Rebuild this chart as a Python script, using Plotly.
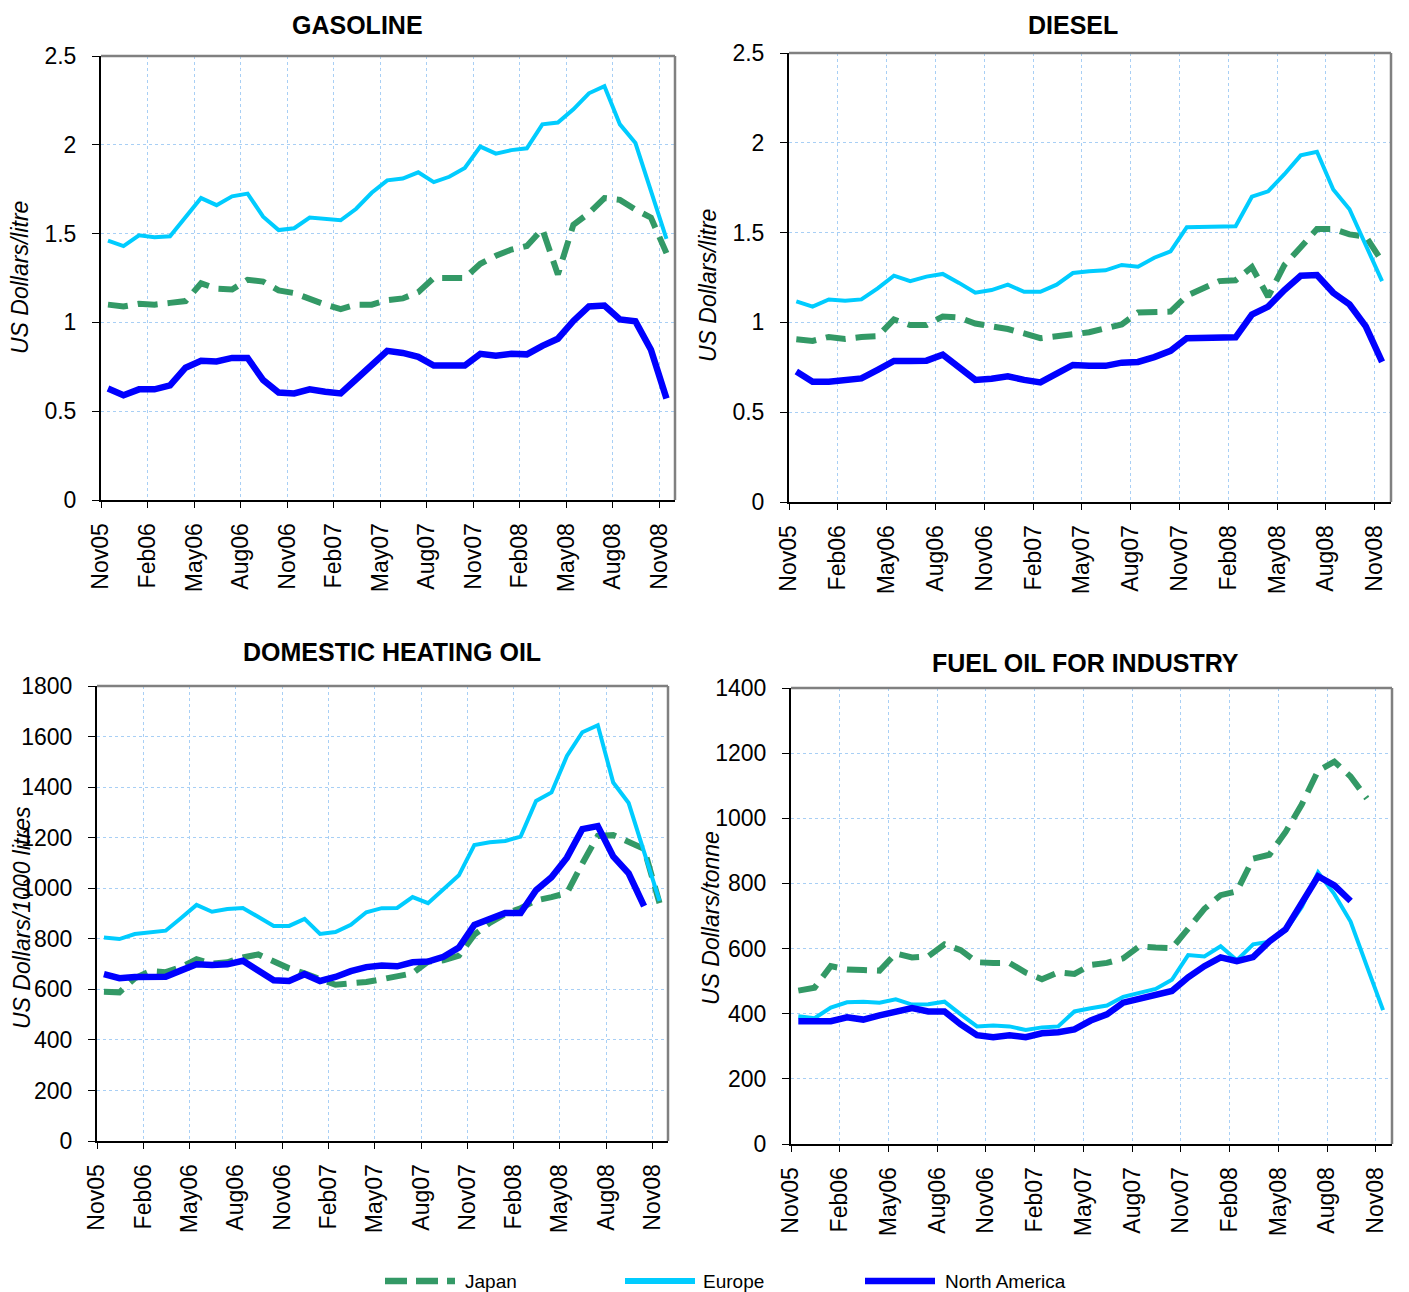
import plotly.graph_objects as go

months = ["Nov05","Dec05","Jan06","Feb06","Mar06","Apr06","May06","Jun06","Jul06","Aug06","Sep06","Oct06",
          "Nov06","Dec06","Jan07","Feb07","Mar07","Apr07","May07","Jun07","Jul07","Aug07","Sep07","Oct07",
          "Nov07","Dec07","Jan08","Feb08","Mar08","Apr08","May08","Jun08","Jul08","Aug08","Sep08","Oct08","Nov08"]
tick_labels = ["Nov05","Feb06","May06","Aug06","Nov06","Feb07","May07","Aug07","Nov07","Feb08","May08","Aug08","Nov08"]

gas_japan = [1.10,1.09,1.105,1.10,1.11,1.12,1.22,1.19,1.185,1.24,1.23,1.18,1.165,1.13,1.10,1.075,1.10,1.10,1.125,1.135,
             1.17,1.25,1.25,1.25,1.33,1.375,1.41,1.43,1.525,1.27,1.55,1.615,1.70,1.69,1.635,1.59,1.39]
gas_europe = [1.46,1.43,1.49,1.48,1.485,1.59,1.70,1.66,1.71,1.725,1.595,1.52,1.53,1.59,1.58,1.575,1.64,1.73,1.80,1.81,
              1.845,1.79,1.82,1.87,1.99,1.95,1.97,1.98,2.115,2.125,2.20,2.29,2.33,2.115,2.01,1.74,1.47]
gas_na = [0.628,0.59,0.623,0.623,0.645,0.745,0.784,0.78,0.80,0.80,0.675,0.605,0.60,0.623,0.61,0.60,0.68,0.757,0.84,0.828,
          0.806,0.757,0.757,0.757,0.823,0.812,0.823,0.82,0.868,0.908,1.008,1.09,1.095,1.017,1.006,0.846,0.572]

dsl_japan = [0.906,0.897,0.919,0.908,0.919,0.923,1.016,0.985,0.985,1.033,1.027,0.994,0.978,0.963,0.939,0.912,0.923,0.93,
             0.945,0.967,0.989,1.055,1.055,1.06,1.148,1.192,1.23,1.235,1.308,1.143,1.32,1.418,1.52,1.52,1.49,1.478,1.34]
dsl_europe = [1.117,1.088,1.128,1.121,1.128,1.19,1.26,1.23,1.255,1.27,1.22,1.165,1.18,1.21,1.17,1.17,1.21,1.275,1.285,
              1.29,1.32,1.31,1.36,1.395,1.53,1.53,1.53,1.535,1.70,1.73,1.825,1.93,1.95,1.74,1.63,1.43,1.23]
dsl_na = [0.726,0.67,0.67,0.675,0.688,0.736,0.785,0.785,0.787,0.82,0.754,0.68,0.686,0.70,0.68,0.666,0.715,0.763,0.758,
          0.758,0.776,0.78,0.807,0.842,0.912,0.912,0.908,0.917,1.044,1.088,1.18,1.26,1.264,1.165,1.10,0.978,0.78]

heat_japan = [590,588,644,672,668,688,719,702,707,726,738,710,683,663,640,618,624,629,640,650,663,710,715,733,
              816,863,898,921,952,965,981,1098,1207,1210,1184,1156,941]
heat_europe = [805,799,819,824,832,882,934,907,918,922,887,851,851,879,819,827,855,905,921,922,965,941,996,1051,
               1171,1182,1187,1204,1345,1379,1523,1617,1645,1418,1337,1145,950]
heat_na = [660,644,649,650,650,675,699,696,699,713,672,636,633,660,633,649,672,688,694,691,707,710,729,765,
           855,879,902,902,992,1043,1121,1234,1246,1126,1059,929,None]

fuel_japan = [471,480,546,536,534,532,585,573,576,613,595,558,556,556,526,506,527,522,550,556,570,607,603,601,
              661,722,764,776,876,888,958,1043,1146,1174,1128,1061,None]
fuel_europe = [392,386,419,435,437,434,444,428,429,437,398,361,364,361,350,358,361,407,417,425,452,465,476,504,
               580,576,607,564,613,621,655,728,834,767,683,546,411]
fuel_na = [377,377,377,389,382,395,407,417,407,407,367,334,328,334,328,340,343,352,379,398,434,447,455,470,
           512,546,573,561,574,622,659,740,822,794,746,None,None]

W, H = 1409, 1292
OFF = 8  # page body margin shifts the figure by 8px in the viewport


def px(x):
    return (x - OFF) / W


def py(y):
    return 1 - (y - OFF) / H


FONT = "Liberation Sans, Arial, sans-serif"
C_JP, C_EU, C_NA = "#339966", "#00CCFF", "#0000FF"
GRID = "#A8CFF5"

xpos = [i + 0.45 for i in range(len(months))]
tickvals = [months.index(t) for t in tick_labels]

panels = [
    dict(title="GASOLINE", ytitle="US Dollars/litre", data=(gas_japan, gas_europe, gas_na),
         box=(101, 675, 56, 500), yr=(0, 2.5), dt=0.5, tpos=(357, 25), ypos=(20, 278)),
    dict(title="DIESEL", ytitle="US Dollars/litre", data=(dsl_japan, dsl_europe, dsl_na),
         box=(789, 1391, 53, 502), yr=(0, 2.5), dt=0.5, tpos=(1073, 25), ypos=(708, 286)),
    dict(title="DOMESTIC HEATING OIL", ytitle="US Dollars/1000 litres", data=(heat_japan, heat_europe, heat_na),
         box=(97, 668, 686, 1141), yr=(0, 1800), dt=200, tpos=(392, 652), ypos=(22, 918)),
    dict(title="FUEL OIL FOR INDUSTRY", ytitle="US Dollars/tonne", data=(fuel_japan, fuel_europe, fuel_na),
         box=(791, 1392, 688, 1144), yr=(0, 1400), dt=200, tpos=(1085, 663), ypos=(711, 918)),
]

fig = go.Figure()
annotations = []
shapes = []
layout = {}

for k, p in enumerate(panels, start=1):
    xa = "x" if k == 1 else f"x{k}"
    ya = "y" if k == 1 else f"y{k}"
    jp, eu, na = p["data"]
    fig.add_trace(go.Scatter(x=xpos, y=jp, mode="lines", name="Japan", xaxis=xa, yaxis=ya,
                             line=dict(color=C_JP, width=6, dash="20px,10px"), showlegend=False))
    fig.add_trace(go.Scatter(x=xpos, y=eu, mode="lines", name="Europe", xaxis=xa, yaxis=ya,
                             line=dict(color=C_EU, width=4), showlegend=False))
    fig.add_trace(go.Scatter(x=xpos, y=na, mode="lines", name="North America", xaxis=xa, yaxis=ya,
                             line=dict(color=C_NA, width=6.5), showlegend=False))
    x0, x1, y0, y1 = p["box"]
    xkey = "xaxis" if k == 1 else f"xaxis{k}"
    ykey = "yaxis" if k == 1 else f"yaxis{k}"
    layout[xkey] = dict(domain=[px(x0), px(x1)], anchor=ya, range=[0, 37], automargin=False,
                        tickmode="array", tickvals=tickvals, ticktext=tick_labels, tickangle=-90,
                        ticks="outside", ticklen=6, tickcolor="black", showline=True, linecolor="black",
                        linewidth=2, showgrid=True, gridcolor=GRID, griddash="dot", gridwidth=1,
                        zeroline=False, tickfont=dict(family=FONT, size=23, color="black"),
                        ticklabelstandoff=6, fixedrange=True)
    layout[ykey] = dict(domain=[py(y1), py(y0)], anchor=xa, range=list(p["yr"]), automargin=False,
                        dtick=p["dt"], tick0=0, ticks="outside", ticklen=7, tickcolor="black",
                        showline=True, linecolor="black", linewidth=2, showgrid=True,
                        gridcolor=GRID, griddash="dot", gridwidth=1, zeroline=False,
                        tickfont=dict(family=FONT, size=23, color="black"), tickformat="d" if p["dt"] >= 1 else None,
                        ticklabelstandoff=11, fixedrange=True)
    shapes.append(dict(type="line", xref=f"{xa} domain", yref=f"{ya} domain", x0=0, x1=1, y0=1, y1=1,
                       line=dict(color="#808080", width=2.5)))
    shapes.append(dict(type="line", xref=f"{xa} domain", yref=f"{ya} domain", x0=1, x1=1, y0=0, y1=1,
                       line=dict(color="#808080", width=2.5)))
    tx, ty = p["tpos"]
    annotations.append(dict(text=f"<b>{p['title']}</b>", x=px(tx), y=py(ty), xref="paper", yref="paper",
                            showarrow=False, xanchor="center", yanchor="middle", borderpad=0,
                            font=dict(family=FONT, size=25, color="black")))
    yx, yy = p["ypos"]
    annotations.append(dict(text=f"<i>{p['ytitle']}</i>", x=px(yx), y=py(yy), xref="paper", yref="paper",
                            showarrow=False, textangle=-90, xanchor="center", yanchor="middle",
                            font=dict(family=FONT, size=23, color="black")))

legend_items = [("Japan", C_JP, 6.5, "22px,9px", 385, 455, 463),
                ("Europe", C_EU, 6, "solid", 625, 695, 701),
                ("North America", C_NA, 6.5, "solid", 865, 935, 943)]
ly = py(1281)
for name, col, wd, dash, lx0, lx1, tx in legend_items:
    shapes.append(dict(type="line", xref="paper", yref="paper", x0=px(lx0), x1=px(lx1), y0=ly, y1=ly,
                       line=dict(color=col, width=wd, dash=dash)))
    annotations.append(dict(text=name, x=px(tx), y=ly, xref="paper", yref="paper", showarrow=False,
                            xanchor="left", yanchor="middle", font=dict(family=FONT, size=19, color="black")))

fig.update_layout(width=W, height=H, margin=dict(l=0, r=0, t=0, b=0, pad=0, autoexpand=False),
                  paper_bgcolor="white", plot_bgcolor="white", showlegend=False,
                  annotations=annotations, shapes=shapes, **layout)

fig.write_html("out.html")
